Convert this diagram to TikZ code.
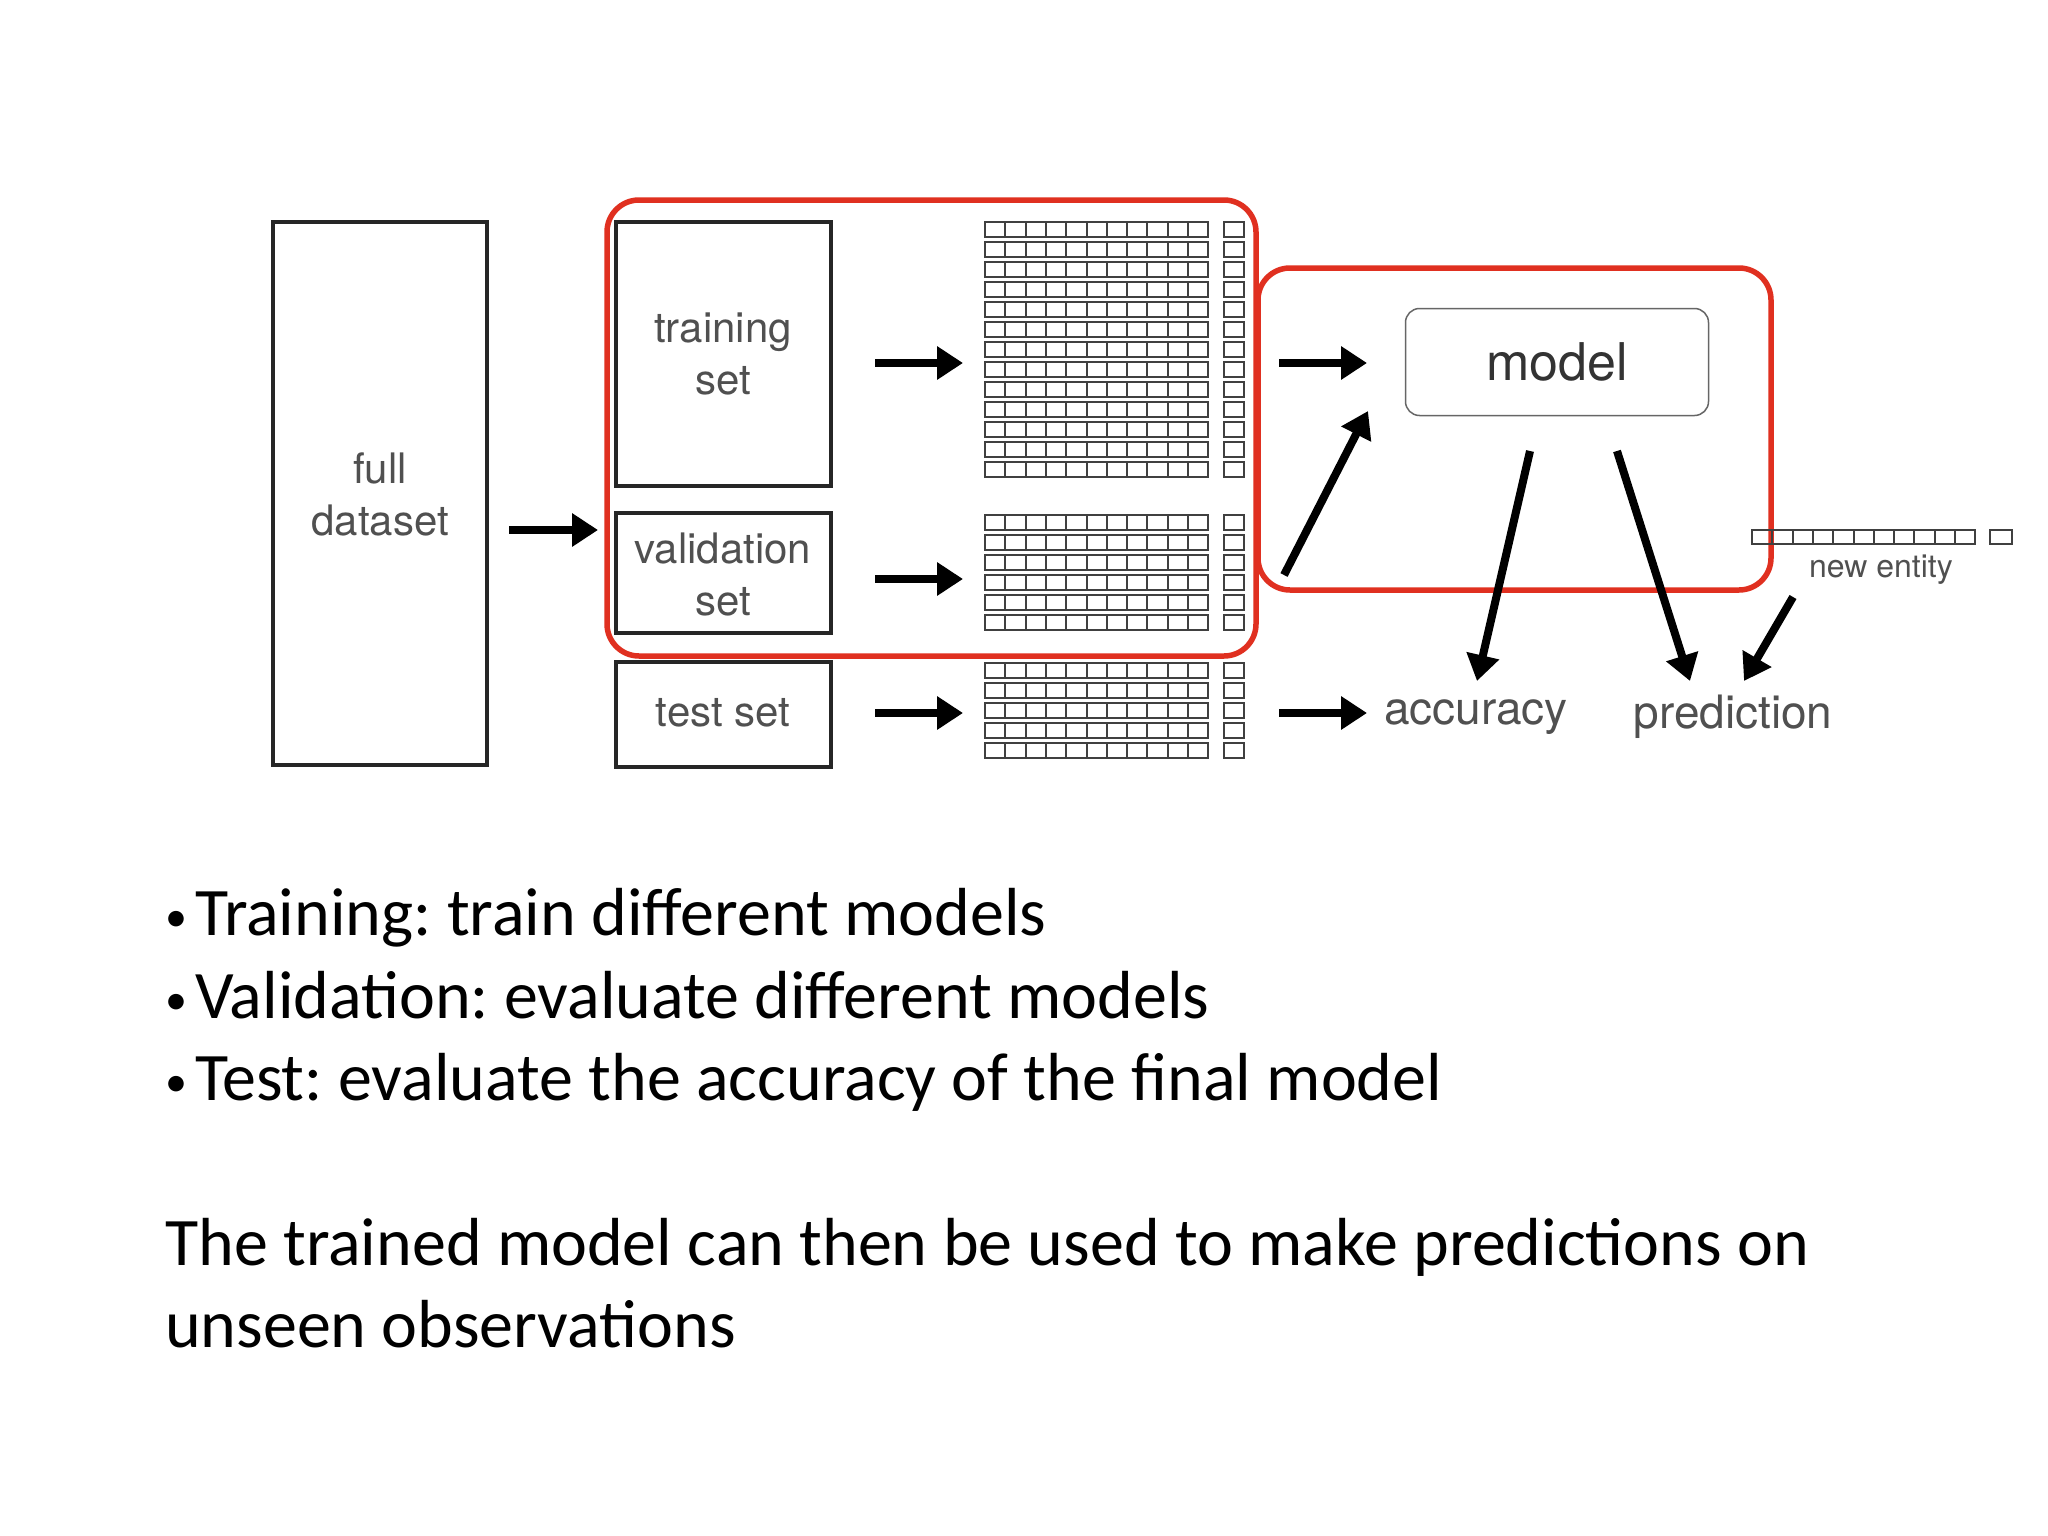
\documentclass[tikz,border=0pt]{standalone}
\usepackage{fontspec}
\setmainfont{Carlito}
\newfontfamily\hv{TeX Gyre Heros}
\usetikzlibrary{arrows.meta}
\definecolor{lab}{HTML}{505050}
\definecolor{redb}{HTML}{E03020}
\newcommand{\mybul}{{\fontsize{44}{50}\selectfont\raisebox{4pt}{\textbullet}}\hspace{8pt}}
\begin{document}
\frenchspacing
\begin{tikzpicture}[x=1pt,y=-1pt,
  box/.style={draw=black!85,line width=3.5pt,inner sep=0pt},
  lbl/.style={font=\hv\fontsize{42}{52}\selectfont,text=lab,align=center},
  red/.style={draw=redb,line width=5.5pt,rounded corners=32pt},
  arr/.style={line width=8pt,-{Triangle[length=26pt,width=32pt]}},
  cell/.style={draw=black!75,line width=2pt},
  bul/.style={font=\fontsize{68}{80}\selectfont,anchor=base west,inner sep=0pt}]
\useasboundingbox (0,0) rectangle (2048,1536);
\fill[white] (0,0) rectangle (2048,1536);
% boxes
\draw[box] (273,222) rectangle (487,765);
\node[lbl] (full) at (380,494) {full\\dataset};
\draw[box] (616,222) rectangle (831,486);
\node[lbl] (train) at (723,354) {training\\set};
\draw[box] (616,513) rectangle (831,633);
\node[lbl] (valid) at (723,575) {validation\\set};
\draw[box] (616,662) rectangle (831,767);
\node[lbl] (test) at (723,713) {test set};
% grids
\foreach \y/\n in {222/13,515/6,663/5}{
  \foreach \r in {1,...,\n}{
    \pgfmathsetmacro{\yy}{\y+(\r-1)*20}
    \draw[cell] (985,\yy) rectangle (1208,\yy+15);
    \foreach \c in {1,...,10}{\draw[cell] (985+\c*20.3,\yy) -- (985+\c*20.3,\yy+15);}
    \draw[cell] (1224,\yy) rectangle (1244,\yy+15);
  }}
% red boxes
\draw[red] (607,200) rectangle (1256,656);
\draw[red] (1258,268) rectangle (1771,590);
% model
\node[draw=black!60,line width=1.5pt,rounded corners=14pt,minimum width=303pt,minimum height=107pt,font=\hv\fontsize{52}{60}\selectfont,text=black!80] (model) at (1557,362) {model};
\node[font=\hv\fontsize{46}{56}\selectfont,text=lab] (acc) at (1476,717) {accuracy};
\node[font=\hv\fontsize{46}{56}\selectfont,text=lab] (pred) at (1733,717) {prediction};
% new entity
\draw[cell] (1752,530) rectangle (1975,544);
\foreach \c in {1,...,10}{\draw[cell] (1752+\c*20.3,530) -- (1752+\c*20.3,544);}
\draw[cell] (1990,530) rectangle (2012,544);
\node[font=\hv\fontsize{32}{40}\selectfont,text=lab] (ne) at (1881,570) {new entity};
% arrow coordinates
\coordinate (a1) at (509,530); \coordinate (a2) at (598,530);
\coordinate (b1) at (875,363); \coordinate (b2) at (963,363);
\coordinate (c1) at (875,579); \coordinate (c2) at (963,579);
\coordinate (d1) at (875,713); \coordinate (d2) at (963,713);
\coordinate (e1) at (1279,363); \coordinate (e2) at (1367,363);
\coordinate (f1) at (1279,713); \coordinate (f2) at (1367,713);
\coordinate (g1) at (1284,575); \coordinate (g2) at (1368,411);
\coordinate (h1) at (1530,451); \coordinate (h2) at (1477,681);
\coordinate (i1) at (1617,451); \coordinate (i2) at (1690,681);
\coordinate (j1) at (1793,597); \coordinate (j2) at (1744,681);
\foreach \p in {a,b,c,d,e,f,g,h,i,j}{\draw[arr] (\p1) -- (\p2);}
% text
\node[bul] (t1) at (165,935) {\mybul Training: train different models};
\node[bul] (t2) at (165,1018) {\mybul Validation: evaluate different models};
\node[bul] (t3) at (165,1100) {\mybul Test: evaluate the accuracy of the final model};
\node[bul] (t4) at (165,1265) {The trained model can then be used to make predictions on};
\node[bul] (t5) at (165,1347) {unseen observations};
\end{tikzpicture}
\end{document}
